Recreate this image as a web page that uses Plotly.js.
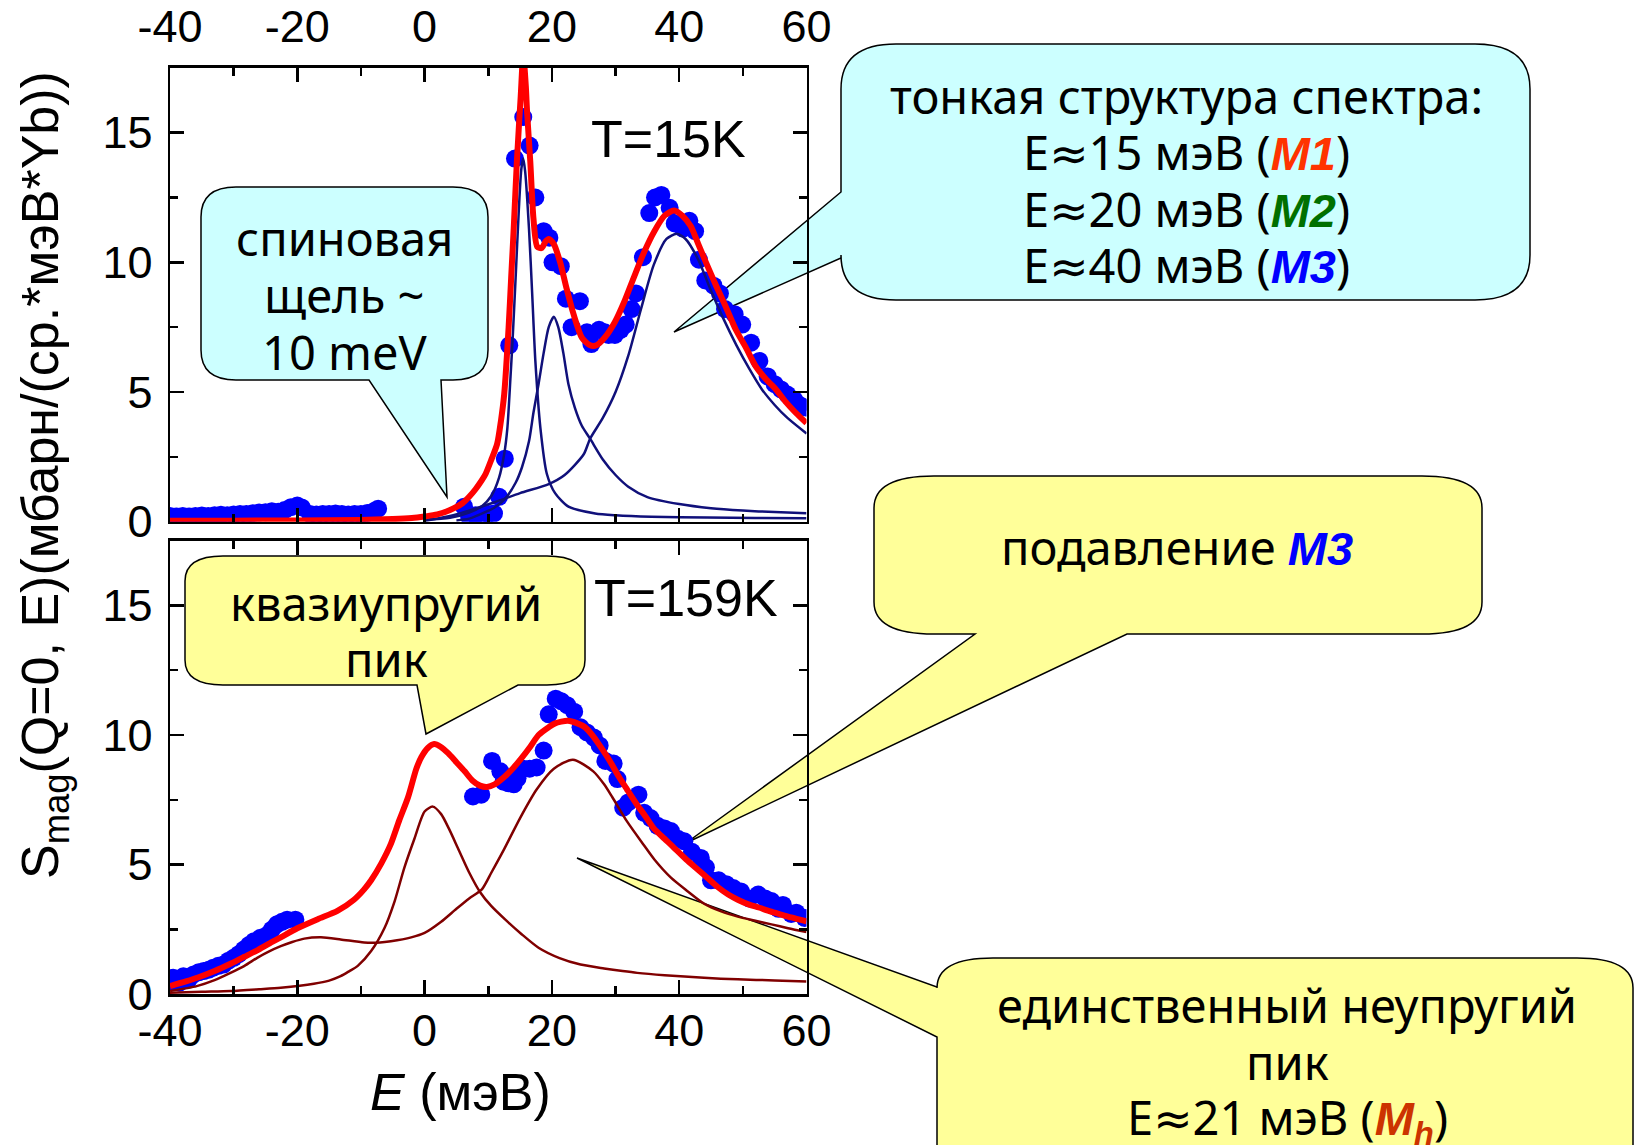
<!DOCTYPE html>
<html>
<head>
<meta charset="utf-8">
<script src="https://cdn.plot.ly/plotly-3.0.1.min.js"></script>
<style>html,body{margin:0;padding:0;background:#fff;}</style>
</head>
<body>
<div id="chart" style="width:1636px;height:1145px;"></div>
<script>
// ---------- T = 15 K ----------
// measured S_mag points
const e15 = [-40,-39,-38,-37,-36,-35,-34,-33,-32,-31,-30,-29,-28,-27,-26,-25,-24,-23,-22,-21,-20,-19.3,-18,-17,-16,-15,-14,-13,-12,-11,-10,-9,-8,-7.3,
  6.2,7.0,8.0,9.1,10.0,10.9,11.7,12.6,13.3,14.2,15.5,16.5,17.4,18.7,19.6,20.1,21.4,22.2,23.1,24.4,25.5,26.2,27.4,28.3,28.9,29.9,30.8,31.6,32.5,33.2,34.3,35.3,36.2,37.2,38.5,39.3,40.6,41.6,42.5,43.1,44.1,45.4,46.4,47.2,48.7,49.9,51.3,52.6,53.9,55.0,56.0,57.0,58.1,58.9,59.9];
const s15 = [0.22,0.20,0.22,0.20,0.22,0.24,0.22,0.25,0.27,0.25,0.28,0.30,0.30,0.33,0.35,0.36,0.40,0.38,0.45,0.56,0.62,0.55,0.30,0.28,0.30,0.30,0.32,0.30,0.28,0.30,0.30,0.34,0.40,0.50,
  0.58,0.19,0.25,0.26,0.30,0.32,0.96,2.43,6.8,14.0,15.6,14.5,12.5,11.2,10.95,10.0,9.85,8.6,7.5,8.5,7.3,6.85,7.4,7.3,7.2,7.2,7.4,7.6,8.2,8.8,10.2,11.9,12.5,12.6,12.1,11.5,11.3,11.6,11.2,10.1,9.3,9.1,8.8,8.2,8.0,7.6,6.9,6.2,5.6,5.3,5.1,4.9,4.7,4.5,4.4];

// total fit
const fitE15 = [-40,-30,-20,-10,-5,-2,0,2,4,6,7,8,9,9.6,10.5,11.4,12,12.5,13.2,13.6,14.0,14.5,15.1,15.5,15.9,16.1,16.6,17.1,17.7,18.4,19.0,19.5,20.3,21.3,22.3,23.4,24.7,26.0,27.0,28.3,29.9,31.4,33.0,34.5,36.1,37.7,39.2,40.5,41.8,43.0,44.2,45.8,47.3,48.9,50.5,52.0,53.6,55.2,56.8,58.3,60];
const fitS15 = [0.04,0.04,0.05,0.07,0.1,0.14,0.2,0.28,0.45,0.72,0.96,1.25,1.6,1.85,2.4,3.0,3.9,4.9,7.5,9.4,11.3,13.9,16.4,18.0,16.8,15.8,13.9,11.7,10.6,10.55,10.8,10.9,10.7,10.0,9.0,8.0,7.1,6.8,6.8,7.1,7.7,8.5,9.5,10.4,11.2,11.8,12.0,11.8,11.4,10.7,10.0,9.1,8.3,7.4,6.7,6.0,5.5,5.1,4.6,4.2,3.8];

// components M1, M2, M3
const m1E = [0,4,7,9,10.5,11.7,12.5,13.0,13.5,13.8,14.3,14.8,15.2,15.5,15.8,16.4,16.9,17.4,18.2,19.2,20.5,22.6,26.8,30,35.6,44.4,52,60];
const m1S = [0.08,0.15,0.35,0.6,1.0,1.7,2.6,3.6,5.6,6.9,9.4,12.0,13.6,14.0,13.5,11.3,8.8,6.2,3.6,1.85,1.1,0.58,0.32,0.25,0.19,0.16,0.14,0.13];
const m2E = [5,7,9.6,11,12.7,14.3,15.3,16.4,17.1,17.9,18.7,19.5,20.3,21.0,21.8,22.6,23.6,24.7,26.0,28,30,32,35,40,45,50,55,60];
const m2S = [0.05,0.12,0.38,0.55,0.9,1.5,2.1,3.1,4.2,5.3,6.5,7.5,7.9,7.5,6.5,5.3,4.4,3.7,3.2,2.4,1.8,1.35,0.95,0.68,0.52,0.43,0.37,0.33];
const m3E = [0,4.5,11,15,19.5,22,25,26,28,30,32,34,36,38,39.6,41,43,45,47,49,51,53,55,57,60];
const m3S = [0.03,0.25,0.75,1.1,1.45,1.8,2.6,3.2,4.0,5.0,6.4,8.2,9.9,10.9,11.1,10.9,10.1,8.9,7.8,6.8,5.9,5.1,4.5,4.0,3.4];

// ---------- T = 159 K ----------
const e159 = [-39.8,-39.5,-38.5,-37.9,-37.0,-36.3,-35.5,-34.7,-33.9,-33.2,-32.4,-31.6,-30.8,-30.0,-29.2,-28.4,-27.6,-26.8,-25.8,-24.7,-24.0,-23.2,-22.4,-21.6,-20.3,
  7.6,8.9,10.6,11.9,12.4,13.2,14.0,14.6,15.5,16.5,17.6,18.7,19.5,20.6,21.5,22.4,23.5,24.5,25.5,26.6,27.5,28.4,29.7,30.3,31.2,32.0,33.6,34.5,35.5,36.6,37.7,38.7,39.8,40.8,42.0,43.4,44.2,45.0,46.2,47.4,48.5,49.7,51.0,52.4,53.5,54.5,55.6,56.3,57.6,58.4,59.7];
const s159 = [0.5,0.64,0.45,0.7,0.6,0.77,0.85,0.9,0.95,1.03,1.1,1.15,1.3,1.41,1.55,1.73,1.9,2.05,2.18,2.3,2.5,2.7,2.8,2.88,2.88,
  7.63,7.7,9.0,8.6,8.2,8.14,8.1,8.33,8.7,8.7,8.75,9.4,10.8,11.4,11.3,11.15,10.9,10.3,10.1,9.9,9.6,9.0,8.9,8.3,7.2,7.4,7.7,7.0,6.8,6.5,6.4,6.3,6.0,5.9,5.5,5.26,4.9,4.4,4.4,4.25,4.1,3.97,3.7,3.85,3.7,3.6,3.3,3.45,3.1,3.15,2.95];

const fitE159 = [-40,-37.5,-35.5,-33,-30.5,-28.3,-26.3,-24.5,-22.6,-20,-16.8,-13.7,-11.1,-9.5,-8.4,-6.8,-5.3,-4,-2.6,-1.3,-0.5,0.5,1.5,2.5,3.7,5.0,6.3,7.5,8.7,9.8,11.0,12.6,14.0,15.2,16.6,17.9,19.5,20.5,22.5,24.0,25.2,26.5,27.5,29.1,30.5,31.8,33.4,34.6,36.0,37.7,39.0,41.1,43.0,44.4,46.0,47.7,49.2,51.0,52.5,54.3,56.0,57.6,60];
const fitS159 = [0.32,0.5,0.66,0.9,1.18,1.45,1.7,1.95,2.2,2.55,2.9,3.22,3.65,4.05,4.4,5.05,5.8,6.7,7.6,8.7,9.15,9.5,9.65,9.55,9.3,8.95,8.6,8.25,8.05,8.0,8.1,8.4,8.75,9.1,9.55,10.0,10.3,10.45,10.55,10.45,10.3,9.95,9.6,9.0,8.4,7.9,7.3,6.9,6.4,6.0,5.7,5.2,4.8,4.5,4.15,3.85,3.65,3.46,3.35,3.2,3.08,2.97,2.82];

// quasi-elastic component and single inelastic component M_h
const qeE = [-40,-35,-30.5,-26,-22.6,-17.4,-15,-13.2,-11.8,-10.5,-8.4,-6.3,-4.7,-3.2,-1.6,0,1.3,2.6,3.8,5.4,7.0,8.7,10.5,12.6,15.2,17.9,21.2,24.5,28.2,31.1,33.4,37.7,43.9,49.2,55,60];
const qeS = [0.06,0.1,0.13,0.2,0.26,0.41,0.53,0.7,0.9,1.1,1.67,2.56,3.6,4.87,6.0,7.05,7.24,6.95,6.4,5.55,4.7,3.95,3.4,2.9,2.33,1.8,1.4,1.15,1.0,0.9,0.83,0.74,0.64,0.58,0.54,0.5];
const mhE = [-40,-35.8,-33,-30.5,-28.3,-26.3,-24.5,-22.6,-20.8,-18.9,-16.3,-13.2,-9.5,-7,-5.3,-2.1,0,2.6,5,7,9,10.5,12.5,15,17.6,20.3,23.3,26.5,28.2,29.5,31.8,34.4,36.1,38.7,41.2,43.9,46.6,49.2,51.8,54.5,57.1,60];
const mhS = [0.13,0.32,0.55,0.83,1.1,1.41,1.65,1.86,2.02,2.15,2.2,2.12,2.0,2.0,2.05,2.2,2.37,2.8,3.3,3.7,4.05,4.7,5.6,6.8,7.9,8.7,9.05,8.6,8.1,7.6,6.67,5.77,5.2,4.5,4.0,3.5,3.2,3.0,2.85,2.7,2.55,2.4];

// tick labels (plain hyphen minus)
const xTickVals = [-40, -20, 0, 20, 40, 60];
const xTickText = ['-40', '-20', '0', '20', '40', '60'];
const yTickVals = [0, 5, 10, 15];
const yTickText = ['0', '5', '10', '15'];

// ---------- figure geometry (pixels) ----------
const W = 1636, H = 1145;
const px = x => x / W;
const py = y => 1 - y / H;

const dotStyle = {color: '#0000FF', size: 18};
const fitLine = {color: '#FF0000', width: 6, shape: 'spline', smoothing: 0.7};
const navy = {color: '#10107A', width: 2.5, shape: 'spline', smoothing: 0.7};
const brown = {color: '#800000', width: 2.5, shape: 'spline', smoothing: 0.7};

const traces = [
  {x: e15, y: s15, xaxis: 'x', yaxis: 'y', mode: 'markers', marker: dotStyle, name: 'T=15K'},
  {x: m1E, y: m1S, xaxis: 'x', yaxis: 'y', mode: 'lines', line: navy, name: 'M1'},
  {x: m2E, y: m2S, xaxis: 'x', yaxis: 'y', mode: 'lines', line: navy, name: 'M2'},
  {x: m3E, y: m3S, xaxis: 'x', yaxis: 'y', mode: 'lines', line: navy, name: 'M3'},
  {x: fitE15, y: fitS15, xaxis: 'x', yaxis: 'y', mode: 'lines', line: fitLine, name: 'fit 15K'},
  {x: e159, y: s159, xaxis: 'x2', yaxis: 'y2', mode: 'markers', marker: dotStyle, name: 'T=159K'},
  {x: qeE, y: qeS, xaxis: 'x2', yaxis: 'y2', mode: 'lines', line: brown, name: 'QE'},
  {x: mhE, y: mhS, xaxis: 'x2', yaxis: 'y2', mode: 'lines', line: brown, name: 'Mh'},
  {x: fitE159, y: fitS159, xaxis: 'x2', yaxis: 'y2', mode: 'lines', line: fitLine, name: 'fit 159K'}
];

const tickFont = {family: 'Liberation Sans, Arial, sans-serif', size: 45, color: '#000'};
const frame = {
  showline: true, linecolor: '#000', linewidth: 2.5, mirror: 'allticks',
  ticks: 'inside', ticklen: 14, tickwidth: 2.5, tickcolor: '#000',
  showgrid: false, zeroline: false, tickfont: tickFont, fixedrange: true
};
const xFrame = Object.assign({}, frame, {
  range: [-40, 60], tickmode: 'array', tickvals: xTickVals, ticktext: xTickText,
  minor: {ticks: 'inside', tickmode: 'linear', tick0: 0, dtick: 10, ticklen: 8, tickwidth: 2.5, tickcolor: '#000'}
});
const yFrame = Object.assign({}, frame, {
  range: [0, 17.5], tickmode: 'array', tickvals: yTickVals, ticktext: yTickText,
  minor: {ticks: 'inside', tickmode: 'linear', tick0: 0, dtick: 2.5, ticklen: 8, tickwidth: 2.5, tickcolor: '#000'}
});

const xDom = [px(170), px(806.5)];

// speech-bubble outline: rounded box with a wedge on its bottom or left edge
function bubble(b) {
  const P = (x, y) => px(x).toFixed(5) + ',' + py(y).toFixed(5);
  const {x0, y0, x1, y1, rx, ry, tail} = b;
  let d = 'M' + P(x0 + rx, y0) + ' L' + P(x1 - rx, y0) + ' Q' + P(x1, y0) + ' ' + P(x1, y0 + ry) +
          ' L' + P(x1, y1 - ry) + ' Q' + P(x1, y1) + ' ' + P(x1 - rx, y1);
  if (tail.edge === 'bottom') d += ' L' + P(tail.b, y1) + ' L' + P(tail.tip[0], tail.tip[1]) + ' L' + P(tail.a, y1);
  d += ' L' + P(x0 + rx, y1) + ' Q' + P(x0, y1) + ' ' + P(x0, y1 - ry);
  if (tail.edge === 'left') d += ' L' + P(x0, tail.b) + ' L' + P(tail.tip[0], tail.tip[1]) + ' L' + P(x0, tail.a);
  d += ' L' + P(x0, y0 + ry) + ' Q' + P(x0, y0) + ' ' + P(x0 + rx, y0) + ' Z';
  return {type: 'path', xref: 'paper', yref: 'paper', layer: 'below', path: d,
          fillcolor: b.fill, line: {color: '#000', width: 1.5}};
}
const CYAN = '#CCFFFF', YELLOW = '#FFFF99';
const shapes = [
  bubble({x0: 201, y0: 187, x1: 488, y1: 380, rx: 35, ry: 30, fill: CYAN,
          tail: {edge: 'bottom', a: 369, b: 441, tip: [447, 497]}}),
  bubble({x0: 841, y0: 44, x1: 1530, y1: 300, rx: 55, ry: 45, fill: CYAN,
          tail: {edge: 'left', a: 192, b: 258, tip: [674, 332]}}),
  bubble({x0: 874, y0: 476, x1: 1482, y1: 634, rx: 60, ry: 32, fill: YELLOW,
          tail: {edge: 'bottom', a: 975, b: 1127, tip: [686, 843]}}),
  bubble({x0: 937, y0: 958, x1: 1633, y1: 1230, rx: 56, ry: 30, fill: YELLOW,
          tail: {edge: 'left', a: 987, b: 1037, tip: [577, 858]}}),
  bubble({x0: 185, y0: 556, x1: 585, y1: 685, rx: 38, ry: 25, fill: YELLOW,
          tail: {edge: 'bottom', a: 417, b: 518, tip: [426, 734]}})
];

const noteFont = {family: 'Noto Sans, DejaVu Sans, sans-serif', size: 47, color: '#000'};
const arialFont = {family: 'Liberation Sans, Arial, sans-serif', size: 52, color: '#000'};
const tag = (txt, col) => '<span style="font-family:Liberation Sans,Arial,sans-serif;color:' + col + '"><b><i>' + txt + '</i></b></span>';
function note(x, y, text, font) {
  return {xref: 'paper', yref: 'paper', x: px(x), y: py(y), xanchor: 'center', yanchor: 'middle',
          text: text, showarrow: false, font: font || noteFont, align: 'center'};
}
// one annotation per text line so the line pitch can be set freely
function block(x, ys, lines) {
  return lines.map((t, i) => note(x, ys[i], t));
}
const annotations = [].concat(
  block(344, [238, 295, 352], ['спиновая', 'щель ~', '10 meV']),
  block(1186, [96, 152, 209, 265], [
    'тонкая структура спектра:',
    'E≈15 мэВ (' + tag('M1', '#FF3300') + ')',
    'E≈20 мэВ (' + tag('M2', '#007000') + ')',
    'E≈40 мэВ (' + tag('M3', '#0000FF') + ')'
  ]),
  block(1177, [547], ['подавление ' + tag('M3', '#0000FF')]),
  block(1287, [1005, 1062, 1118], [
    'единственный неупругий', 'пик', 'E≈21 мэВ (' + tag('M<sub>h</sub>', '#CC3300') + ')'
  ]),
  block(386, [603, 659], ['квазиупругий', 'пик']),
  [
    note(668, 139, 'T=15K', arialFont),
    note(686, 598, 'T=159K', arialFont),
    note(460, 1092, '<i>E</i> (мэВ)', arialFont),
    Object.assign(note(44, 475, 'S<sub>mag</sub>(Q=0, E)(мбарн/(ср.*мэВ*Yb))', arialFont), {textangle: -90})
  ]
);

const layout = {
  width: W, height: H,
  margin: {l: 0, r: 0, t: 0, b: 0, pad: 0},
  paper_bgcolor: '#fff', plot_bgcolor: '#fff',
  showlegend: false,
  xaxis: Object.assign({}, xFrame, {domain: xDom, anchor: 'y', side: 'top', ticklabelstandoff: 5}),
  yaxis: Object.assign({}, yFrame, {domain: [py(521.7), py(67.8)], anchor: 'x', ticklabelstandoff: 6}),
  xaxis2: Object.assign({}, xFrame, {domain: xDom, anchor: 'y2', side: 'bottom', ticklabelstandoff: -5}),
  yaxis2: Object.assign({}, yFrame, {domain: [py(994.4), py(540.5)], anchor: 'x2', ticklabelstandoff: 6}),
  shapes: shapes,
  annotations: annotations
};

Plotly.newPlot('chart', traces, layout, {staticPlot: true, displayModeBar: false});
</script>
</body>
</html>
